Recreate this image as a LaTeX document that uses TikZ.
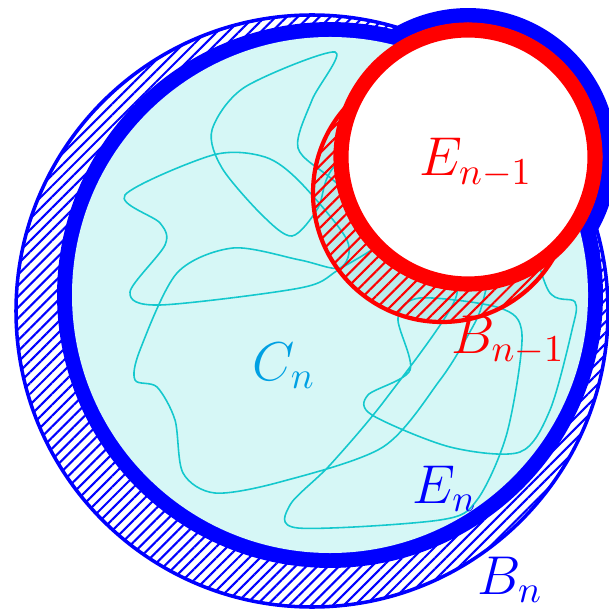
\documentclass[tikz,border=0pt]{standalone}
\usetikzlibrary{patterns.meta}
\definecolor{enfill}{RGB}{214,247,246}
\definecolor{bfill}{RGB}{186,236,236}
\definecolor{walk}{RGB}{20,200,205}
\definecolor{cnblue}{RGB}{0,160,227}

\begin{document}
\begin{tikzpicture}[x=0.01cm, y=-0.01cm,
  lbl/.style={font=\Large, scale=1.08, inner sep=0pt},
  hatch/.style={pattern={Lines[angle=45, distance=#1, line width=0.6pt]}},
  hatch/.default=2.2pt]
  \useasboundingbox (0,0) rectangle (608,610);

  % centres
  \coordinate (Bn) at (312,311);
  \coordinate (En) at (330,295);
  \coordinate (Em) at (468,157);
  \coordinate (Bm) at (442,193);

  % B_n
  \draw[blue, hatch, pattern color=blue, line width=1pt] (Bn) circle (296);

  % E_n
  \draw[blue, line width=8.5pt] (En) circle (258) (Em) circle (134);
  \fill[enfill] (En) circle (258) (Em) circle (134);

  % B_{n-1}
  \fill[bfill] (Bm) circle (129);

  % C_n
  \draw[walk, line width=0.45pt] plot[smooth cycle] coordinates {
    (335,52) (245,87) (212,130) (222,168) (262,215) (292,236) (318,208)
    (333,168) (400,105) (480,95) (520,200) (548,290) (575,302) (572,330)
    (550,410) (520,452) (450,447) (372,415) (368,395) (410,370) (398,318)
    (420,298) (500,308) (522,335) (507,433) (477,500) (440,520) (298,528)
    (290,505) (330,465) (385,400) (455,300) (450,250) (490,250) (482,305)
    (467,337) (440,380) (383,447) (280,482) (215,493) (183,473) (175,420)
    (157,387) (135,380) (140,350) (177,273) (233,248) (300,260) (340,268)
    (347,240) (300,182) (265,157) (213,155) (125,195) (160,223) (165,245)
    (130,292) (160,305) (300,288) (338,270) (390,230) (333,180) (298,148)
    (312,100)};

  \draw[red, hatch=2.5pt, pattern color=red, line width=1.2pt] (Bm) circle (129);

  % E_{n-1}
  \draw[red, line width=4.3pt, fill=white] (Em) circle (127);

  % labels
  \node[lbl, red] (lEm) at (476,163) {$E_{n-1}$};
  \node[lbl, red] (lBm) at (508,340) {$B_{n-1}$};
  \node[lbl, cnblue] (lCn) at (284,366) {$C_n$};
  \node[lbl, blue] (lEn) at (445,489) {$E_n$};
  \node[lbl, blue] (lBn) at (510,580) {$B_n$};
\end{tikzpicture}
\end{document}
